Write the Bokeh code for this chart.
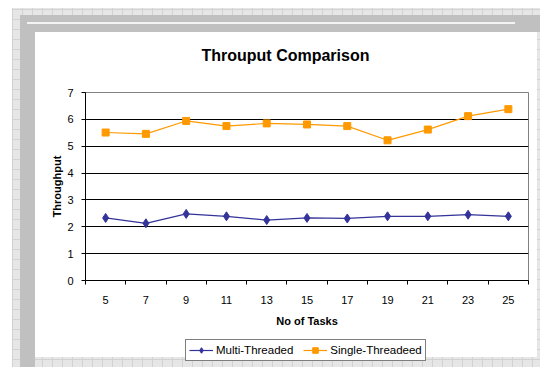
from bokeh.plotting import figure
from bokeh.layouts import column
from bokeh.models import Range1d, FixedTicker, Legend, LegendItem
from bokeh.embed import file_html
from bokeh.resources import INLINE

# ---- data ----
tasks = [5, 7, 9, 11, 13, 15, 17, 19, 21, 23, 25]
multi_threaded = [2.33, 2.13, 2.48, 2.39, 2.25, 2.33, 2.31, 2.39, 2.39, 2.45, 2.39]
single_threaded = [5.51, 5.46, 5.94, 5.75, 5.85, 5.81, 5.75, 5.22, 5.62, 6.12, 6.38]
y_ticks = [0, 1, 2, 3, 4, 5, 6, 7]
x_boundaries = [4, 6, 8, 10, 12, 14, 16, 18, 20, 22, 24, 26]

FONT = "Liberation Sans"
W, H = 540, 367
# plot frame in canvas pixels
FL, FR, FT, FB = 85, 528, 92, 280
BOTTOM = 52
LEG_H = H - FB - BOTTOM

MULTI_COLOR = "#333399"
SINGLE_COLOR = "#FF9900"


def rect(color, x, y, w, h):
    return f"linear-gradient({color},{color}) {x}px {y}px / {w}px {h}px no-repeat"


bg_layers = [
    rect("#ffffff", 35, 32, 502, 325),
    rect("#f4f4f4", 27, 22, 488, 2),
    rect("#c0c0c0", 20, 15, 15, 360),
    rect("#c0c0c0", 20, 15, 528, 17),
    "repeating-linear-gradient(90deg, #d2d2d2 0 1px, transparent 1px 10px) 12px 8px / 533px 362px no-repeat",
    "repeating-linear-gradient(0deg, #d2d2d2 0 1px, transparent 1px 10px) 12px 8px / 533px 362px no-repeat",
    rect("#e6e6e6", 12, 8, 533, 362),
]

p = figure(frame_width=FR - FL, frame_height=FB - FT,
           output_backend="svg", toolbar_location=None,
           x_range=Range1d(4, 26), y_range=Range1d(0, 7),
           min_border_left=FL, min_border_right=W - FR,
           min_border_top=FT, min_border_bottom=BOTTOM,
           background_fill_color="white", border_fill_color=None,
           outline_line_color="#808080", outline_line_width=1)

# title
p.title.text = "Throuput Comparison"
p.title.text_font = FONT
p.title.text_font_style = "bold"
p.title.text_font_size = "16px"
p.title.text_color = "black"
p.title.align = "left"
p.title.offset = 116
p.title.standoff = 57

# axes
p.xaxis.ticker = FixedTicker(ticks=tasks, minor_ticks=x_boundaries)
p.xaxis.major_tick_line_color = None
p.xaxis.minor_tick_line_color = "black"
p.xaxis.minor_tick_out = 4
p.xaxis.minor_tick_in = 0
p.yaxis.ticker = FixedTicker(ticks=y_ticks, minor_ticks=[])
p.yaxis.major_tick_out = 4
p.yaxis.major_tick_in = 0
p.yaxis.minor_tick_line_color = None
for ax in (p.xaxis, p.yaxis):
    ax.axis_line_color = "black"
    ax.major_label_text_font = FONT
    ax.major_label_text_font_size = "11px"
    ax.major_label_text_color = "black"
    ax.axis_label_text_font = FONT
    ax.axis_label_text_font_size = "11px"
    ax.axis_label_text_font_style = "bold"
    ax.axis_label_text_color = "black"
p.xaxis.major_label_standoff = 9
p.yaxis.major_label_standoff = 8
p.xaxis.axis_label = "No of Tasks"
p.xaxis.axis_label_standoff = 8
p.yaxis.axis_label = "Throughput"
p.yaxis.axis_label_standoff = 1

p.xgrid.grid_line_color = None
p.ygrid.ticker = FixedTicker(ticks=y_ticks)
p.ygrid.grid_line_color = "black"
p.ygrid.grid_line_width = 1

# series
p.line(tasks, multi_threaded, line_color=MULTI_COLOR, line_width=1.2)
p.scatter(tasks, multi_threaded, marker="diamond", size=9,
          fill_color=MULTI_COLOR, line_color=MULTI_COLOR)
p.line(tasks, single_threaded, line_color=SINGLE_COLOR, line_width=1.2)
p.scatter(tasks, single_threaded, marker="square", size=7,
          fill_color=SINGLE_COLOR, line_color=SINGLE_COLOR)

# legend strip (separate canvas so that it may sit outside the plot frame)
lf = figure(width=W, height=LEG_H, output_backend="svg", toolbar_location=None,
            x_axis_type=None, y_axis_type=None,
            x_range=Range1d(100, 101), y_range=Range1d(100, 101),
            min_border=0, background_fill_color=None, border_fill_color=None,
            outline_line_color=None)
lf.grid.visible = False
k1 = lf.line(tasks, multi_threaded, line_color=MULTI_COLOR, line_width=1.2)
s1 = lf.scatter(tasks, multi_threaded, marker="diamond", size=9,
                fill_color=MULTI_COLOR, line_color=MULTI_COLOR)
k2 = lf.line(tasks, single_threaded, line_color=SINGLE_COLOR, line_width=1.2)
s2 = lf.scatter(tasks, single_threaded, marker="square", size=7,
                fill_color=SINGLE_COLOR, line_color=SINGLE_COLOR)
legend = Legend(items=[LegendItem(label="Multi-Threaded", renderers=[k1, s1]),
                       LegendItem(label="Single-Threadeed", renderers=[k2, s2])],
                orientation="horizontal", location=(100, 6),
                border_line_color="black", border_line_width=1,
                background_fill_color="white", background_fill_alpha=1,
                label_text_font=FONT, label_text_font_size="11.5px",
                label_text_color="black",
                glyph_width=24, glyph_height=14, label_height=14,
                label_standoff=3, spacing=10, padding=3, margin=0)
lf.add_layout(legend, "center")

layout = column(p, lf, spacing=0,
                styles={"background": ", ".join(bg_layers) + ", #ffffff"})

open("out.html", "w").write(file_html(layout, INLINE))
